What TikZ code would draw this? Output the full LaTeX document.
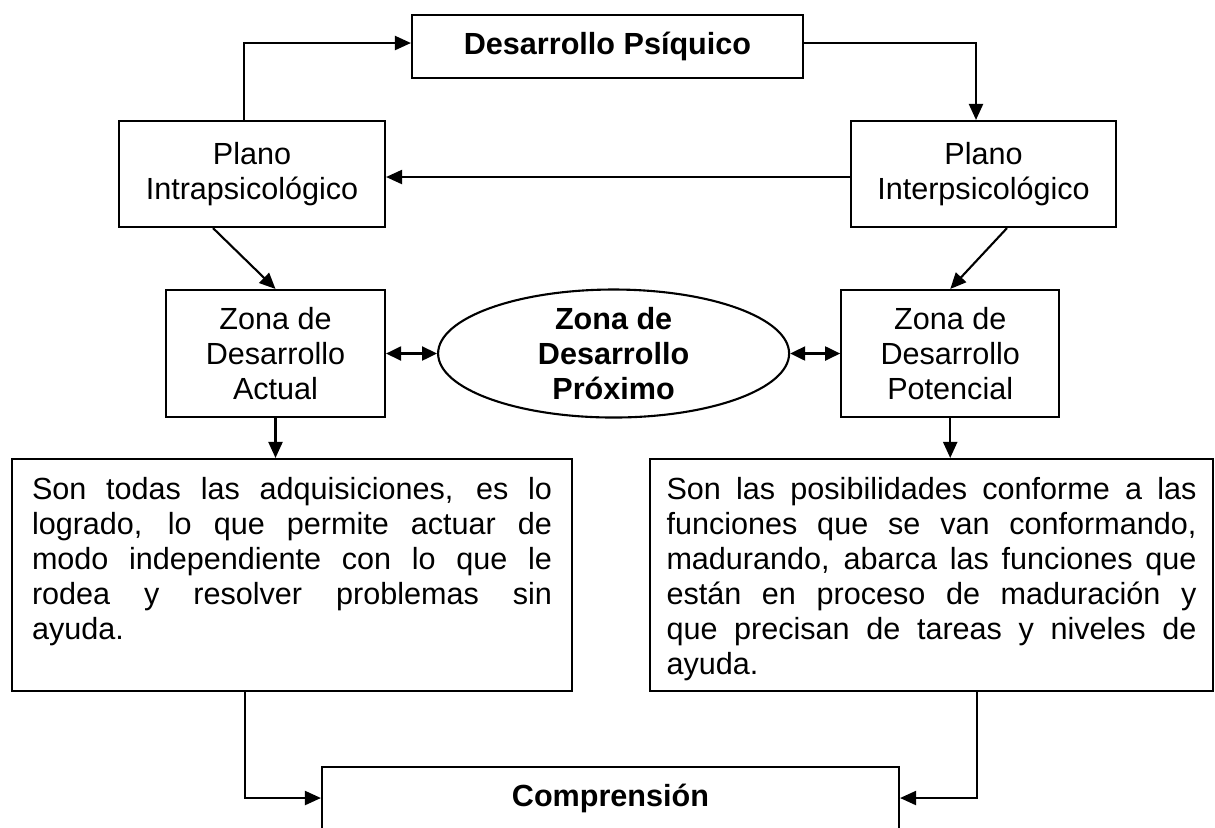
\documentclass[tikz,border=0pt]{standalone}
\usepackage{fontspec}
\setmainfont{Liberation Sans}
\usetikzlibrary{arrows.meta,positioning,shapes.geometric}
\tikzset{
    box/.style={rectangle,draw,semithick,inner sep=0pt,align=center,font=\fontsize{8.7}{10}\selectfont},
    boldbox/.style={box,font=\fontsize{8.7}{10}\selectfont\bfseries},
    oval/.style={ellipse,draw,semithick,inner xsep=0pt,inner ysep=-2pt,align=center,font=\fontsize{8.7}{10}\selectfont\bfseries},
    desc/.style={rectangle,draw,semithick,inner xsep=0.2cm,inner ysep=0.18cm,font=\fontsize{8.7}{10}\selectfont},
    pre/.style={->,semithick,>={Triangle[length=0.16cm,width=0.14cm]}},
    bi/.style={<->,semithick,>={Triangle[length=0.15cm,width=0.14cm]}}
}
\newcommand{\desctext}[2]{\parbox[c][1.96cm][t]{#1}{\tolerance=10000 #2}}

\begin{document}
\begin{tikzpicture}[x=1cm,y=-1cm]

    \useasboundingbox (0,0) rectangle (12.15,8.27);

    \node[boldbox] (psiquico) [minimum width=3.91cm,minimum height=0.63cm] at (6.075,0.465) {Desarrollo Psíquico};

    \node[box] (intra) [minimum width=2.66cm,minimum height=1.06cm] at (2.52,1.74)  {Plano\\Intrapsicológico};
    \node[box] (inter) [minimum width=2.65cm,minimum height=1.06cm] at (9.835,1.74) {Plano\\Interpsicológico};

    \node[box]  (actual)    [minimum width=2.19cm,minimum height=1.27cm] at (2.755,3.535) {Zona de\\Desarrollo\\Actual};
    \node[oval] (proximo)   [minimum width=3.51cm,minimum height=1.28cm,right=0.51cm of actual] {Zona de\\Desarrollo\\Próximo};
    \node[box]  (potencial) [minimum width=2.18cm,minimum height=1.27cm,right=0.50cm of proximo] {Zona de\\Desarrollo\\Potencial};

    \node[desc] (actualdesc) at (2.92,5.75)
        {\desctext{5.2cm}{Son todas las adquisiciones, es lo\linebreak logrado, lo que permite actuar de\linebreak modo independiente con lo que le\linebreak rodea y resolver problemas sin\linebreak ayuda.}};
    \node[desc] (potencialdesc) [inner xsep=0.165cm] at (9.315,5.75)
        {\desctext{5.3cm}{Son las posibilidades conforme a las\linebreak funciones que se van conformando,\linebreak madurando, abarca las funciones que\linebreak están en proceso de maduración y\linebreak que precisan de tareas y niveles de\linebreak ayuda.}};

    \node[boldbox] (comprension) [minimum width=5.77cm,minimum height=0.62cm] at (6.105,7.98) {Comprensión};

    % connectors
    \draw[pre] ([xshift=-0.08cm]intra.north) |- ([yshift=0.035cm]psiquico.west);
    \draw[pre] ([yshift=0.035cm]psiquico.east) -| ([xshift=-0.075cm]inter.north);
    \draw[pre] ([yshift=-0.03cm]inter.west) -- ([yshift=-0.03cm]intra.east);
    \draw[pre] ([xshift=-0.39cm]intra.south) -- (actual.north);
    \draw[pre] ([xshift=0.235cm]inter.south) -- (potencial.north);
    \draw[bi]  (actual.east) -- (proximo.west);
    \draw[bi]  (proximo.east) -- (potencial.west);
    \draw[pre] (actual.south) -- (actual.south |- actualdesc.north);
    \draw[pre] (potencial.south) -- (potencial.south |- potencialdesc.north);
    \draw[pre] ([xshift=-0.47cm]actualdesc.south) |- (comprension.west);
    \draw[pre] ([xshift=0.455cm]potencialdesc.south) |- (comprension.east);

\end{tikzpicture}
\end{document}
